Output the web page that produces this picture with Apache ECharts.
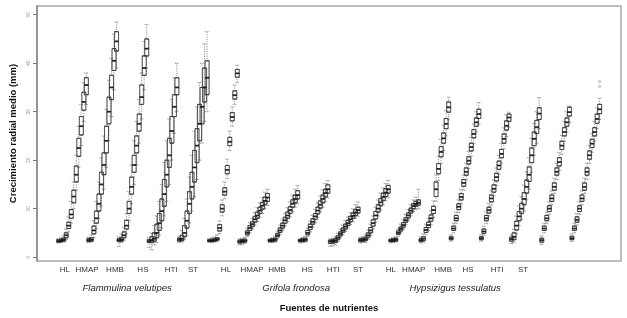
<!DOCTYPE html>
<html><head><meta charset="utf-8">
<script src="https://cdn.jsdelivr.net/npm/echarts@6/dist/echarts.min.js"></script>
<style>html,body{margin:0;padding:0;background:#fff}#c{width:627px;height:318px}</style>
</head><body><div id="c"></div>
<script>
// ---- tick / category labels ----
const sourceLabels = ['HL','HMAP','HMB','HS','HTI','ST','HL','HMAP','HMB','HS','HTI','ST','HL','HMAP','HMB','HS','HTI','ST'];
const sourceLabelPos = [2.5,11.3,22.4,33.5,44.7,53.4,66.5,76.9,86.8,98.8,109.1,119.0,132.0,141.1,152.8,162.7,174.3,184.6];
const speciesNames = ['Flammulina velutipes','Grifola frondosa','Hypsizigus tessulatus'];
const speciesLabelPos = [27.2, 94.4, 157.6];
const yTicks = [0,10,20,30,40,50];
const pointsPerGroup = 12;

// ---- box statistics [min, Q1, median, Q3, max] per time point ----
const F_HL = [[2.9,3.1,3.3,3.6,3.8],[3.0,3.2,3.4,3.7,4.0],[3.1,3.3,3.6,3.9,4.4],[3.6,4.0,4.5,5.0,5.8],[5.2,5.9,6.5,7.2,8.3],[7.0,8.0,8.8,9.8,11.5],[10.0,11.2,12.5,13.8,15.5],[13.8,15.5,17.0,18.8,21.0],[18.5,20.8,22.5,24.5,27.0],[23.0,25.2,27.0,29.0,31.5],[28.0,30.3,32.0,34.0,36.0],[31.5,33.5,35.5,37.0,38.0]];
const F_HMAP = [[3.0,3.2,3.5,3.8,4.1],[3.1,3.3,3.6,4.0,4.6],[4.0,4.8,5.5,6.4,7.5],[5.8,7.0,8.0,9.5,11.5],[8.0,9.5,11.0,13.0,15.5],[10.5,13.0,15.0,17.5,20.5],[14.0,17.0,19.0,21.5,25.0],[18.5,21.5,24.0,27.0,30.5],[24.0,27.5,30.0,33.0,36.5],[29.0,32.5,35.0,37.5,41.0],[34.5,38.5,40.5,43.0,46.0],[39.0,42.5,44.5,46.5,48.5]];
const F_HMB = [[2.2,3.2,3.5,3.8,4.2],[3.0,3.3,3.6,4.0,4.8],[3.5,4.0,4.5,5.2,6.2],[4.8,5.8,6.5,7.6,9.0],[7.5,9.0,10.0,11.5,13.5],[11.0,13.0,14.5,16.5,19.0],[15.0,17.5,19.0,21.0,24.0],[19.0,21.5,23.0,25.0,28.0],[23.5,26.0,27.5,29.5,32.5],[28.5,31.5,33.0,35.5,38.0],[34.5,37.5,39.0,41.5,44.5],[39.0,41.5,43.0,45.0,48.0]];
const F_HS = [[2.0,3.0,3.3,3.6,4.0],[1.5,3.0,3.5,4.2,5.0],[2.5,3.3,3.8,5.0,6.5],[3.0,4.0,5.0,6.8,8.5],[4.5,5.5,7.0,9.0,11.5],[6.0,7.5,9.5,12.0,15.0],[8.5,10.5,13.0,16.0,19.5],[11.5,14.5,17.0,20.0,24.0],[15.0,18.5,21.0,24.5,28.5],[20.0,23.5,26.0,29.0,32.5],[25.5,29.0,31.0,33.5,37.0],[30.0,33.5,35.0,37.0,40.0]];
const F_HTI = [[3.0,3.3,3.6,3.9,4.2],[3.1,3.4,3.8,4.5,5.5],[3.6,4.2,5.0,6.5,8.0],[4.5,6.0,7.5,9.5,12.0],[7.0,9.0,11.0,13.5,16.5],[9.5,12.0,14.5,17.5,21.0],[12.5,15.5,18.5,22.0,26.0],[16.0,19.5,23.0,26.5,31.0],[20.0,24.0,27.5,31.5,36.0],[23.5,27.5,31.0,35.0,40.0],[28.0,32.0,35.0,39.0,44.0],[30.0,33.5,37.0,40.5,46.5]];
const F_ST = [[3.0,3.2,3.4,3.6,3.9],[3.0,3.2,3.4,3.7,4.0],[3.1,3.3,3.5,3.8,4.2],[3.2,3.5,3.7,4.0,4.6],[4.8,5.4,6.0,6.7,7.5],[8.5,9.3,10.0,10.8,11.8],[12.0,12.8,13.5,14.3,15.5],[16.2,17.2,18.0,18.9,20.2],[22.0,23.0,23.8,24.7,26.0],[27.0,28.1,28.9,29.8,31.0],[31.5,32.6,33.4,34.3,35.5],[36.0,37.1,37.9,38.7,39.6]];

const G_HL = [[2.5,2.9,3.2,3.5,3.8],[2.6,3.0,3.3,3.6,3.9],[2.8,3.1,3.4,3.7,4.1],[4.2,4.6,5.0,5.4,5.9],[5.0,5.5,6.0,6.5,7.1],[5.8,6.3,6.8,7.3,8.0],[6.6,7.2,7.8,8.4,9.2],[7.3,8.0,8.6,9.3,10.2],[8.2,9.0,9.6,10.3,11.2],[9.0,9.9,10.6,11.3,12.3],[10.0,10.9,11.6,12.4,13.4],[10.6,11.5,12.3,13.1,14.0]];
const G_HMAP = [[3.0,3.2,3.4,3.6,3.9],[3.0,3.2,3.5,3.8,4.0],[3.1,3.3,3.6,3.9,4.3],[3.8,4.2,4.5,4.9,5.4],[4.6,5.1,5.5,6.0,6.6],[5.5,6.0,6.5,7.0,7.7],[6.4,7.0,7.6,8.2,9.0],[7.3,8.0,8.6,9.3,10.2],[8.3,9.0,9.7,10.4,11.4],[9.4,10.3,11.0,11.8,12.8],[10.3,11.2,12.0,12.8,14.0],[11.0,12.0,12.8,13.7,14.8]];
const G_HMB = [[2.9,3.2,3.4,3.6,3.9],[3.0,3.2,3.5,3.8,4.1],[3.1,3.3,3.6,3.9,4.3],[4.2,4.6,5.0,5.5,6.0],[5.2,5.7,6.2,6.8,7.4],[6.2,6.8,7.3,7.9,8.6],[7.1,7.8,8.4,9.0,9.9],[8.2,8.9,9.6,10.3,11.2],[9.3,10.1,10.8,11.6,12.6],[10.3,11.2,12.0,12.8,13.9],[11.4,12.4,13.2,14.0,15.2],[12.2,13.2,14.0,14.9,15.8]];
const G_HS = [[2.2,2.8,3.2,3.5,3.8],[2.3,2.9,3.3,3.6,3.9],[2.5,3.0,3.4,3.8,4.2],[3.2,3.6,4.0,4.4,4.9],[4.0,4.4,4.8,5.2,5.8],[4.6,5.1,5.5,6.0,6.6],[5.3,5.8,6.3,6.8,7.5],[6.0,6.5,7.0,7.6,8.3],[6.7,7.3,7.8,8.4,9.2],[7.3,8.0,8.5,9.1,10.0],[8.0,8.6,9.2,9.8,10.8],[8.4,9.1,9.7,10.3,11.4]];
const G_HTI = [[2.9,3.2,3.5,3.8,4.1],[3.0,3.3,3.6,3.9,4.3],[3.0,3.4,3.7,4.1,4.6],[3.7,4.1,4.5,5.0,5.6],[4.5,5.0,5.5,6.1,6.8],[5.8,6.4,7.0,7.7,8.5],[7.2,7.9,8.6,9.4,10.3],[8.5,9.3,10.0,10.8,11.8],[9.7,10.6,11.3,12.1,13.2],[10.8,11.7,12.4,13.2,14.3],[11.6,12.5,13.3,14.1,15.2],[12.2,13.2,14.0,14.8,15.8]];
const G_ST = [[2.9,3.2,3.4,3.6,3.9],[3.0,3.2,3.5,3.8,4.0],[3.1,3.3,3.6,3.9,4.2],[4.3,4.7,5.0,5.4,5.8],[5.0,5.4,5.8,6.2,6.8],[5.8,6.2,6.6,7.1,7.7],[6.7,7.2,7.6,8.1,8.8],[7.6,8.1,8.6,9.1,9.8],[8.5,9.1,9.6,10.1,10.9],[9.4,10.0,10.5,11.0,11.8],[9.8,10.5,11.0,11.5,12.4],[10.0,10.7,11.2,11.8,14.0]];

const H_HL = [[2.9,3.2,3.5,3.8,4.2],[3.1,3.4,3.8,4.2,4.8],[4.6,5.1,5.6,6.1,6.8],[5.5,6.1,6.6,7.2,8.0],[6.7,7.4,8.0,8.7,9.6],[8.2,9.0,9.7,10.5,11.6],[11.5,12.5,14.0,15.5,17.0],[15.8,17.2,18.2,19.3,20.8],[19.3,20.7,21.7,22.8,24.3],[22.0,23.5,24.5,25.6,27.2],[25.0,26.5,27.5,28.6,30.2],[28.3,29.9,30.9,32.0,33.0]];
const H_HMAP = [[3.3,3.6,3.9,4.2,4.6],[5.0,5.5,5.9,6.4,7.0],[6.9,7.5,8.0,8.6,9.3],[9.2,9.8,10.4,11.0,11.8],[11.0,11.8,12.4,13.1,14.0],[13.8,14.6,15.3,16.0,17.0],[16.0,16.9,17.6,18.4,19.4],[18.2,19.2,19.9,20.7,21.8],[20.8,21.9,22.7,23.5,24.7],[23.4,24.6,25.4,26.3,27.5],[25.8,27.0,27.8,28.7,30.0],[27.4,28.6,29.5,30.5,31.9]];
const H_HMB = [[3.3,3.6,3.9,4.2,4.6],[4.5,4.9,5.3,5.8,6.4],[6.9,7.5,8.0,8.6,9.3],[8.5,9.1,9.7,10.3,11.1],[10.7,11.4,12.1,12.8,13.7],[12.6,13.4,14.1,14.9,15.9],[14.8,15.7,16.5,17.3,18.4],[17.1,18.1,18.9,19.8,21.0],[19.4,20.5,21.3,22.2,23.5],[22.3,23.5,24.4,25.4,26.7],[24.9,26.2,27.1,28.1,29.4],[26.8,28.0,28.8,29.5,29.9]];
const H_HS = [[2.8,3.3,3.7,4.1,4.6],[3.0,3.6,4.2,5.0,5.8],[4.8,5.6,6.5,7.4,8.5],[6.5,7.5,8.4,9.4,10.6],[7.8,9.0,10.0,11.1,12.5],[9.5,10.8,12.0,13.3,14.9],[11.8,13.2,14.5,15.9,17.6],[14.0,15.6,17.0,18.6,20.5],[17.5,19.5,21.0,22.5,24.5],[21.0,23.0,24.4,25.8,27.6],[23.5,25.5,26.8,28.2,30.0],[26.5,28.4,29.6,30.8,32.9]];
const H_HTI = [[2.6,3.1,3.5,3.9,4.4],[5.0,5.5,5.9,6.4,7.0],[6.9,7.5,8.0,8.6,9.3],[8.8,9.4,10.0,10.6,11.4],[10.8,11.5,12.1,12.8,13.7],[13.1,13.8,14.5,15.3,16.3],[16.0,16.9,17.6,18.4,19.4],[17.9,18.8,19.6,20.5,21.6],[21.2,22.2,23.0,23.9,25.1],[23.9,25.0,25.8,26.7,28.0],[25.8,27.0,27.8,28.7,30.0],[27.8,29.1,29.9,30.9,31.2]];
const H_ST = [[3.2,3.6,3.9,4.3,4.8],[5.0,5.5,5.9,6.4,7.0],[6.6,7.2,7.7,8.3,9.0],[8.8,9.4,10.0,10.6,11.4],[10.8,11.5,12.1,12.8,13.7],[13.1,13.8,14.5,15.3,16.3],[16.0,16.9,17.6,18.4,19.4],[19.3,20.2,21.0,21.9,23.0],[21.6,22.6,23.4,24.3,25.5],[23.9,25.0,25.8,26.7,28.0],[26.5,27.6,28.5,29.5,30.8],[28.4,29.6,30.5,31.5,32.8]];

// outliers: group index, time step, value
const outlierGroup = [17, 17];
const outlierStep = [11, 11];
const outlierValue = [35.2, 36.2];

const groups = [F_HL,F_HMAP,F_HMB,F_HS,F_HTI,F_ST,G_HL,G_HMAP,G_HMB,G_HS,G_HTI,G_ST,H_HL,H_HMAP,H_HMB,H_HS,H_HTI,H_ST];

const whiskerData = [], boxData = [], medianData = [];
groups.forEach((g, gi) => g.forEach((s, k) => {
  const x = gi * pointsPerGroup + k;
  whiskerData.push([x, s[0], s[1], s[2], s[3], s[4]]);
  boxData.push([x, s[1], s[1], s[2], s[3], s[3]]);
  medianData.push([x, s[2]]);
}));
const outlierData = outlierValue.map((v, i) => [outlierGroup[i] * pointsPerGroup + outlierStep[i], v]);

const xMin = -8.6, xMax = 223.5;
const chart = echarts.init(document.getElementById('c'), null, {renderer: 'canvas'});
const font = 'Liberation Sans, Arial, sans-serif';
chart.setOption({
  animation: false,
  backgroundColor: '#fff',
  grid: {left: 37, right: 6, top: 6, bottom: 55, show: true, borderColor: '#a8a8a8', borderWidth: 1.5, containLabel: false},
  xAxis: [
    {type: 'value', min: xMin, max: xMax, show: false},
    {type: 'value', min: xMin, max: xMax, position: 'bottom',
     axisLine: {show: false}, axisTick: {show: false}, splitLine: {show: false},
     axisLabel: {customValues: sourceLabelPos, margin: 5, fontSize: 8, color: '#333', fontFamily: font,
       formatter: v => { const i = sourceLabelPos.indexOf(v); return i >= 0 ? sourceLabels[i] : ''; }}},
    {type: 'value', min: xMin, max: xMax, position: 'bottom', offset: 17,
     axisLine: {show: false}, axisTick: {show: false}, splitLine: {show: false},
     axisLabel: {customValues: speciesLabelPos, margin: 5, fontSize: 9.5, fontStyle: 'italic', color: '#222', fontFamily: font,
       formatter: v => { const i = speciesLabelPos.indexOf(v); return i >= 0 ? speciesNames[i] : ''; }},
     name: 'Fuentes de nutrientes', nameLocation: 'middle', nameGap: 25,
     nameTextStyle: {fontSize: 9.5, fontWeight: 'bold', color: '#111', fontFamily: font}}
  ],
  yAxis: {
    type: 'value', min: -0.8, max: 51.8,
    axisLine: {show: true, onZero: false, lineStyle: {color: '#8a8a8a', width: 1.5}},
    axisTick: {show: true, length: 4, customValues: yTicks, lineStyle: {color: '#777'}},
    axisLabel: {customValues: yTicks, fontSize: 5, color: '#999', rotate: 90, margin: 6, fontFamily: font},
    splitLine: {show: false},
    name: 'Crecimiento radial medio (mm)', nameLocation: 'middle', nameGap: 16,
    nameTextStyle: {fontSize: 9.5, fontWeight: 'bold', color: '#111', fontFamily: font}
  },
  series: [
    {type: 'boxplot', xAxisIndex: 0, data: whiskerData, boxWidth: [4, 4], silent: true,
     itemStyle: {color: 'rgba(0,0,0,0)', borderColor: '#777', borderWidth: 0.8, borderType: [1.2, 1.2]}},
    {type: 'boxplot', xAxisIndex: 0, data: boxData, boxWidth: [4, 4], silent: true,
     itemStyle: {color: 'rgba(0,0,0,0)', borderColor: '#3a3a3a', borderWidth: 0.8}},
    {type: 'scatter', xAxisIndex: 0, data: medianData, symbol: 'rect', symbolSize: [4, 1.8], silent: true,
     itemStyle: {color: '#111'}},
    {type: 'scatter', xAxisIndex: 0, data: outlierData, symbol: 'circle', symbolSize: 2, silent: true,
     itemStyle: {color: '#fff', borderColor: '#666', borderWidth: 0.6}}
  ]
});
</script>
</body></html>
